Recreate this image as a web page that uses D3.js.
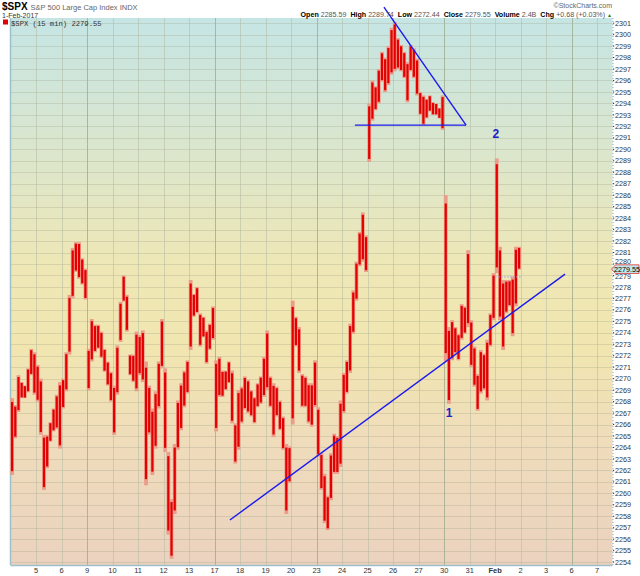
<!DOCTYPE html>
<html><head><meta charset="utf-8">
<script src="https://cdn.jsdelivr.net/npm/d3@7"></script>
<style>body{margin:0;background:#fff}svg{display:block}</style>
</head><body><svg id="c" width="640" height="576"></svg>
<script>
// ---- data ----
// trading days, index 0 = Jan 4 (its label is off-chart)
const dayLabels = ["4","5","6","9","10","11","12","13","17","18","19","20","23","24","25","26","27","30","31","Feb","2","3","6","7"];
const weekStartDays = [3, 8, 12, 17, 22];
const barsPerDay = 8;
// half-hour-ish bars (high / low), 8 per day, Jan 4 .. Feb 1
const barHigh = [
 2268.3,2267.7,2270.3,2269.7,2269.4,2270.9,2272.6,2272.3, // Jan 4
 2271.2,2270.0,2265.1,2265.1,2266.2,2267.4,2268.6,2269.7, // Jan 5
 2270.0,2272.3,2277.3,2281.4,2281.9,2281.9,2280.5,2279.6, // Jan 6
 2272.6,2275.2,2274.7,2274.7,2274.1,2272.6,2271.5,2270.6, // Jan 9
 2269.4,2272.9,2276.7,2279.0,2277.3,2272.1,2272.1,2274.1, // Jan 10
 2273.8,2274.2,2271.5,2269.4,2267.4,2268.9,2271.5,2275.2, // Jan 11
 2270.9,2263.6,2259.5,2264.3,2268.1,2269.6,2270.7,2271.6, // Jan 12
 2278.6,2277.4,2278.0,2275.7,2275.4,2274.2,2274.8,2276.3, // Jan 13
 2271.6,2271.9,2270.7,2270.7,2271.5,2270.7,2266.1,2269.0, // Jan 17
 2269.3,2270.2,2269.9,2269.0,2268.4,2269.6,2270.2,2271.9, // Jan 18
 2274.2,2270.2,2269.6,2269.3,2268.1,2266.7,2264.3,2264.1, // Jan 19
 2276.8,2275.4,2274.5,2270.4,2270.2,2269.6,2269.6,2271.6, // Jan 20
 2267.5,2263.5,2261.7,2259.8,2263.5,2265.2,2265.0,2268.1, // Jan 23
 2270.5,2271.6,2274.8,2277.7,2280.2,2282.8,2284.5,2282.5, // Jan 24
 2294.0,2296.0,2295.5,2297.0,2298.5,2298.0,2299.0,2300.6, // Jan 25
 2301.1,2299.7,2299.1,2298.5,2297.6,2299.1,2298.8,2297.9, // Jan 26
 2295.0,2294.7,2294.4,2294.7,2294.1,2294.0,2293.6,2294.7, // Jan 27
 2286.0,2274.5,2275.1,2274.5,2273.9,2276.5,2276.3,2281.2, // Jan 30
 2275.1,2272.8,2270.4,2272.5,2272.2,2273.4,2275.7,2279.2, // Jan 31
 2289.2,2281.5,2278.6,2278.6,2278.6,2278.9,2281.5,2281.5  // Feb 1
];
const barLow = [
 2261.6,2264.8,2267.1,2268.3,2268.3,2268.8,2270.3,2268.6,
 2268.0,2265.1,2260.3,2262.2,2264.5,2265.4,2265.6,2263.9,
 2267.4,2268.9,2272.1,2277.0,2279.3,2278.7,2278.2,2276.9,
 2269.0,2271.5,2272.3,2272.6,2271.8,2270.6,2269.4,2268.0,
 2265.1,2268.6,2273.2,2276.7,2274.1,2270.3,2269.7,2268.9,
 2270.3,2269.7,2260.7,2265.1,2261.6,2263.9,2267.4,2270.9,
 2263.6,2256.4,2254.3,2258.2,2263.8,2265.5,2267.5,2268.7,
 2272.5,2275.4,2275.7,2272.8,2273.6,2271.3,2272.5,2273.4,
 2265.4,2268.4,2268.4,2269.0,2269.6,2266.1,2262.6,2263.8,
 2266.1,2267.3,2267.0,2266.7,2266.1,2267.5,2267.8,2268.4,
 2269.0,2267.5,2264.9,2266.7,2265.5,2263.8,2258.2,2260.9,
 2266.0,2272.8,2270.5,2267.5,2267.5,2266.1,2265.8,2267.5,
 2263.2,2260.3,2257.4,2256.8,2259.4,2261.7,2261.7,2262.3,
 2267.0,2268.7,2270.5,2273.9,2276.8,2279.8,2280.2,2279.3,
 2288.9,2292.5,2293.4,2294.0,2295.9,2295.0,2295.6,2296.5,
 2296.8,2297.0,2296.8,2296.2,2294.1,2296.8,2296.2,2294.7,
 2293.0,2292.1,2292.7,2293.3,2293.0,2293.0,2292.7,2291.7,
 2271.5,2267.8,2271.6,2272.2,2271.6,2273.4,2273.9,2274.5,
 2271.0,2269.3,2267.2,2268.7,2269.0,2268.1,2272.8,2275.1,
 2279.2,2275.1,2272.5,2275.7,2276.3,2273.7,2276.3,2279.5
];
const priceTicks = d3.range(2254, 2302);
const lastClose = 2279.55;
const prevClose = 2278.87;
const infoLabels = ["Open","High","Low","Close","Volume","Chg"];
const infoValues = ["2285.59","2289.74","2272.44","2279.55","2.4B","+0.68 (+0.03%)"];
// hand-drawn annotation lines, in (trading-day, price) units
const annotLines = [
  [[8.60, 2257.67], [21.74, 2279.12]],
  [[13.50, 2292.11], [17.86, 2292.11]],
  [[14.64, 2302.39], [17.86, 2292.11]]
];
const annotLabels = [{t:"1", d:17.19, p:2267.0}, {t:"2", d:19.03, p:2291.3}];

// ---- chart ----
const svg = d3.select("#c");
const L = 10.5, R = 612.5, T = 18, B = 565;
const x = d3.scaleLinear().domain([0, 23.6]).range([L, R]);
const y = d3.scaleLinear().domain([2253.75, 2301.45]).range([B, T]);
const FONT = "Liberation Sans, Arial, sans-serif";

const defs = svg.append("defs");
const g = defs.append("linearGradient").attr("id","bg").attr("x1",0).attr("y1",0).attr("x2",0).attr("y2",1);
[[0,"#c5e5e4"],[0.22,"#d9e6cf"],[0.45,"#eee7b6"],[0.6,"#f1e6b0"],[0.78,"#efdcbb"],[1,"#ebd2bf"]]
  .forEach(([o,c]) => g.append("stop").attr("offset",o).attr("stop-color",c));

svg.append("rect").attr("x",L).attr("y",T).attr("width",R-L).attr("height",B-T).attr("fill","url(#bg)");

// horizontal grid
svg.append("g").selectAll("line").data(priceTicks).join("line")
  .attr("x1",L).attr("x2",R).attr("y1",d=>Math.round(y(d))+0.5).attr("y2",d=>Math.round(y(d))+0.5)
  .attr("stroke","#9a9a80").attr("stroke-opacity",0.28).attr("stroke-width",1);

// vertical grid
const dayIdx = d3.range(1, dayLabels.length);
svg.append("g").selectAll("line").data(dayIdx).join("line")
  .attr("x1",d=>Math.round(x(d))+0.5).attr("x2",d=>Math.round(x(d))+0.5).attr("y1",T).attr("y2",B)
  .attr("stroke", d => weekStartDays.includes(d) ? "#9aa88a" : "#b0b8a0")
  .attr("stroke-opacity", d => weekStartDays.includes(d) ? 0.75 : 0.5);

// frame
svg.append("line").attr("x1",L).attr("x2",L).attr("y1",T).attr("y2",B).attr("stroke","#9cc0cc").attr("stroke-width",1.5);
svg.append("line").attr("x1",L).attr("x2",R).attr("y1",B+0.5).attr("y2",B+0.5).attr("stroke","#9cc0cc").attr("stroke-width",1.5);
svg.append("line").attr("x1",R+0.5).attr("x2",R+0.5).attr("y1",T).attr("y2",B).attr("stroke","#7fa8c8").attr("stroke-dasharray","1,2");

// bars
const bw = x(1/barsPerDay) - x(0);
const bars = barHigh.map((h,i) => ({i, h, l: barLow[i]}));
const bg = svg.append("g");
bg.selectAll("rect.s").data(bars).join("rect").attr("class","s")
  .attr("x", d => x(d.i/barsPerDay) - 0.3).attr("width", bw + 0.6)
  .attr("y", d => y(d.h)).attr("height", d => Math.max(1, y(d.l)-y(d.h)))
  .attr("fill","#ec9c8a");
bg.selectAll("rect.r").data(bars).join("rect").attr("class","r")
  .attr("x", d => x(d.i/barsPerDay) + bw*0.15).attr("width", bw*0.7)
  .attr("y", d => y(d.h) + (y(d.l)-y(d.h))*0.05).attr("height", d => Math.max(1, (y(d.l)-y(d.h))*0.9))
  .attr("fill","#e40000");

// prev close dotted line
svg.append("line").attr("x1",x(19)).attr("x2",x(20)).attr("y1",y(prevClose)).attr("y2",y(prevClose))
  .attr("stroke","#a0a0f0").attr("stroke-dasharray","1.5,1.5");

// annotations
svg.append("g").selectAll("line").data(annotLines).join("line")
  .attr("x1",d=>x(d[0][0])).attr("y1",d=>y(d[0][1])).attr("x2",d=>x(d[1][0])).attr("y2",d=>y(d[1][1]))
  .attr("stroke","#1a1af0").attr("stroke-width",1.4);
svg.append("g").selectAll("text").data(annotLabels).join("text")
  .attr("x",d=>x(d.d)).attr("y",d=>y(d.p)+4).attr("text-anchor","middle")
  .attr("font-family",FONT).attr("font-weight","bold").attr("font-size",12).attr("fill","#2020c8").text(d=>d.t);

// right axis (labels next to the last-price tag are nudged clear of it)
const ly = y(lastClose);
const tagH = 4.3;
function labelY(d) {
  const c = y(d);
  if (Math.abs(c - ly) < 8) return c < ly ? Math.min(c, ly - tagH - 3.3) : Math.max(c, ly + tagH + 3.3);
  return c;
}
const ra = svg.append("g");
ra.selectAll("text").data(priceTicks).join("text")
  .attr("x", 615).attr("y", d => labelY(d)+2.6).attr("font-family",FONT).attr("font-size",7.2).attr("fill","#333")
  .text(d=>d);
ra.selectAll("rect").data(priceTicks).join("rect")
  .attr("x",613).attr("y",d=>y(d)-0.5).attr("width",1.2).attr("height",1).attr("fill","#333");

// last price tag
svg.append("path").attr("d", `M${R-1},${ly} L${R+3},${ly-tagH} L${639},${ly-tagH} L${639},${ly+tagH} L${R+3},${ly+tagH} Z`)
  .attr("fill","#bfe8ee").attr("stroke","#e03030").attr("stroke-width",0.8);
svg.append("text").attr("x",614).attr("y",ly+2.6).attr("font-family",FONT).attr("font-size",7.2).attr("fill","#000").text(lastClose.toFixed(2));

// bottom axis
svg.append("g").selectAll("text").data(dayIdx).join("text")
  .attr("x", d => x(d)).attr("y", 573).attr("text-anchor","middle")
  .attr("font-family",FONT).attr("font-size",7.5).attr("fill","#333")
  .attr("font-weight", d => dayLabels[d]==="Feb" ? "bold" : "normal")
  .text(d => dayLabels[d]);

// header
const h1 = svg.append("text").attr("x",2).attr("y",10).attr("font-family",FONT);
h1.append("tspan").attr("font-weight","bold").attr("font-size",10).attr("fill","#000").text("$SPX");
h1.append("tspan").attr("font-size",7.5).attr("fill","#666").attr("dx",3).text("S&P 500 Large Cap Index INDX");
svg.append("text").attr("x",2).attr("y",17.5).attr("font-family",FONT).attr("font-size",7).attr("fill","#333").text("1-Feb-2017");
svg.append("text").attr("x",612).attr("y",8).attr("text-anchor","end").attr("font-family",FONT).attr("font-size",7).attr("fill","#666").text("©StockCharts.com");
const info = svg.append("text").attr("x",612).attr("y",16.5).attr("text-anchor","end").attr("font-family",FONT).attr("font-size",7.1);
infoLabels.forEach((lab,i) => {
  info.append("tspan").attr("font-weight","bold").attr("fill","#000").attr("dx", i? 4:0).text(lab);
  info.append("tspan").attr("fill","#555").attr("dx",2).text(infoValues[i]);
});
info.append("tspan").attr("fill","#208020").attr("font-size",5).attr("dx",2).text("▲");

// legend
svg.append("rect").attr("x",3).attr("y",19.5).attr("width",5).attr("height",5).attr("fill","#e00000");
svg.append("text").attr("x",11).attr("y",25.5).attr("font-family","Liberation Mono, DejaVu Sans Mono, monospace").attr("font-size",7.2).attr("fill","#333")
  .text("$SPX (15 min) " + lastClose.toFixed(2));
</script></body></html>
